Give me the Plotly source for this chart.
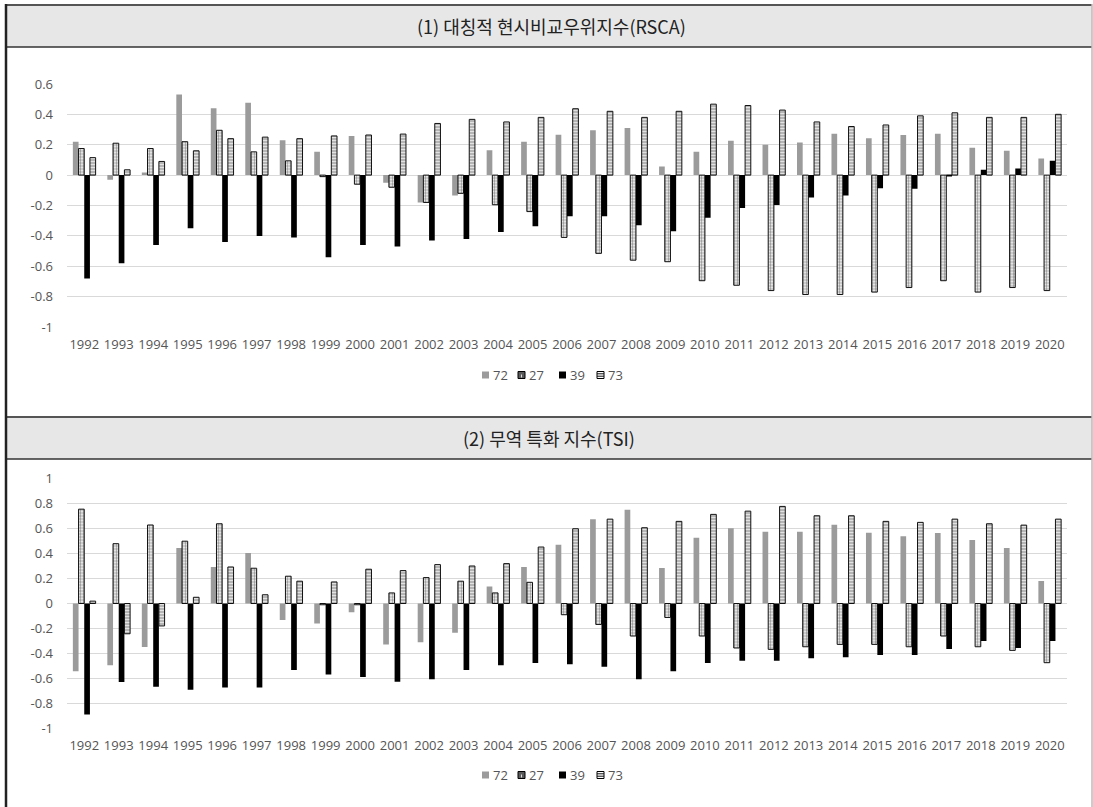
import plotly.graph_objects as go

W, H = 1093, 807

years = ["1992", "1993", "1994", "1995", "1996", "1997", "1998", "1999", "2000", "2001",
         "2002", "2003", "2004", "2005", "2006", "2007", "2008", "2009", "2010", "2011",
         "2012", "2013", "2014", "2015", "2016", "2017", "2018", "2019", "2020"]
series_names = ["72", "27", "39", "73"]

# (1) RSCA
rsca_72 = [0.22, -0.03, 0.017, 0.53, 0.44, 0.476, 0.23, 0.153, 0.258, -0.05, -0.18, -0.135, 0.164, 0.22, 0.266,
           0.295, 0.31, 0.057, 0.153, 0.227, 0.2, 0.214, 0.273, 0.242, 0.264, 0.273, 0.18, 0.16, 0.11]
rsca_27 = [0.175, 0.21, 0.175, 0.22, 0.295, 0.153, 0.094, -0.01, -0.06, -0.08, -0.18, -0.12, -0.195, -0.24, -0.41,
           -0.515, -0.56, -0.57, -0.695, -0.725, -0.76, -0.786, -0.786, -0.77, -0.74, -0.695, -0.77, -0.74, -0.76]
rsca_39 = [-0.68, -0.58, -0.46, -0.35, -0.44, -0.40, -0.41, -0.54, -0.46, -0.47, -0.43, -0.42, -0.375, -0.336, -0.27,
           -0.27, -0.33, -0.37, -0.28, -0.216, -0.196, -0.148, -0.135, -0.087, -0.09, -0.005, 0.035, 0.044, 0.094]
rsca_73 = [0.115, 0.035, 0.09, 0.16, 0.24, 0.25, 0.24, 0.258, 0.264, 0.27, 0.34, 0.367, 0.35, 0.38, 0.437,
           0.42, 0.38, 0.42, 0.467, 0.458, 0.428, 0.35, 0.32, 0.33, 0.39, 0.41, 0.38, 0.38, 0.40]

# (2) TSI
tsi_72 = [-0.544, -0.496, -0.35, 0.445, 0.293, 0.405, -0.133, -0.16, -0.07, -0.328, -0.31, -0.235, 0.136, 0.293, 0.472,
          0.677, 0.752, 0.285, 0.528, 0.603, 0.576, 0.576, 0.632, 0.568, 0.539, 0.565, 0.509, 0.445, 0.181]
tsi_27 = [0.757, 0.48, 0.63, 0.5, 0.64, 0.283, 0.219, -0.01, -0.01, 0.085, 0.208, 0.179, 0.085, 0.17, -0.09,
          -0.168, -0.261, -0.112, -0.261, -0.357, -0.368, -0.347, -0.328, -0.328, -0.347, -0.261, -0.347, -0.376, -0.475]
tsi_39 = [-0.89, -0.63, -0.667, -0.693, -0.675, -0.675, -0.533, -0.57, -0.59, -0.627, -0.608, -0.533, -0.496, -0.477, -0.488,
          -0.507, -0.608, -0.544, -0.477, -0.459, -0.459, -0.44, -0.432, -0.413, -0.413, -0.365, -0.301, -0.357, -0.301]
tsi_73 = [0.019, -0.243, -0.18, 0.05, 0.293, 0.07, 0.179, 0.173, 0.275, 0.264, 0.312, 0.301, 0.32, 0.453, 0.6,
          0.677, 0.608, 0.659, 0.715, 0.741, 0.779, 0.704, 0.704, 0.659, 0.651, 0.677, 0.64, 0.629, 0.677]

rsca_ticks = [0.6, 0.4, 0.2, 0, -0.2, -0.4, -0.6, -0.8, -1]
rsca_ticktext = ["0.6", "0.4", "0.2", "0", "-0.2", "-0.4", "-0.6", "-0.8", "-1"]
tsi_ticks = [1, 0.8, 0.6, 0.4, 0.2, 0, -0.2, -0.4, -0.6, -0.8, -1]
tsi_ticktext = ["1", "0.8", "0.6", "0.4", "0.2", "0", "-0.2", "-0.4", "-0.6", "-0.8", "-1"]

title1 = "(1) 대칭적 현시비교우위지수(RSCA)"
title2 = "(2) 무역 특화 지수(TSI)"


def px(x):
    return x / W


def py(y):
    return 1 - y / H


def styles(name):
    if name == "72":
        return dict(color="#9b9b9b", line=dict(width=0))
    if name == "27":
        return dict(color="white", line=dict(color="#111111", width=1),
                    pattern=dict(shape=".", fgcolor="#222222", bgcolor="white", size=3, solidity=0.5))
    if name == "39":
        return dict(color="#000000", line=dict(width=0))
    return dict(color="white", line=dict(color="#111111", width=1),
                pattern=dict(shape="-", fgcolor="#111111", bgcolor="white", size=3, solidity=0.5))


fig = go.Figure()
top_data = [rsca_72, rsca_27, rsca_39, rsca_73]
bot_data = [tsi_72, tsi_27, tsi_39, tsi_73]
for name, vals in zip(series_names, top_data):
    fig.add_trace(go.Bar(x=years, y=vals, name=name, marker=styles(name),
                         xaxis="x", yaxis="y", showlegend=False))
for name, vals in zip(series_names, bot_data):
    fig.add_trace(go.Bar(x=years, y=vals, name=name, marker=styles(name),
                         xaxis="x2", yaxis="y2", showlegend=False))

tickfont = dict(family="Open Sans, DejaVu Sans, sans-serif", size=13, color="#555555")
axis_common = dict(showgrid=True, gridcolor="#d9d9d9", gridwidth=1, zeroline=True,
                   zerolinecolor="#d9d9d9", zerolinewidth=1, showline=False, ticks="",
                   tickfont=tickfont, automargin=False, fixedrange=True)
xdom = [px(67), px(1067)]

fig.update_layout(
    width=W, height=H,
    margin=dict(l=0, r=0, t=0, b=0),
    paper_bgcolor="white", plot_bgcolor="white",
    barmode="group", bargap=0.34, bargroupgap=0.0,
    xaxis=dict(domain=xdom, anchor="y", type="category", showgrid=False, zeroline=False,
               ticks="", tickfont=tickfont, ticklabelstandoff=7, automargin=False, tickangle=0),
    xaxis2=dict(domain=xdom, anchor="y2", type="category", showgrid=False, zeroline=False,
                ticks="", tickfont=tickfont, ticklabelstandoff=7, automargin=False, tickangle=0),
    yaxis=dict(domain=[py(327.5), py(83.5)], anchor="x", range=[-1.003, 0.603],
               tickmode="array", tickvals=rsca_ticks, ticktext=rsca_ticktext,
               ticklabelstandoff=13, **axis_common),
    yaxis2=dict(domain=[py(728.5), py(478.5)], anchor="x2", range=[-1.003, 1.003],
                tickmode="array", tickvals=tsi_ticks, ticktext=tsi_ticktext,
                ticklabelstandoff=13, **axis_common),
    showlegend=False,
)

shapes = []
# header boxes
for (y0, y1) in [(5, 47), (417, 459)]:
    shapes.append(dict(type="rect", xref="paper", yref="paper", x0=px(6), x1=px(1092), y0=py(y1), y1=py(y0),
                       fillcolor="#e7e7e7", line=dict(width=0), layer="below"))
    shapes.append(dict(type="line", xref="paper", yref="paper", x0=px(6), x1=px(1092), y0=py(y0), y1=py(y0),
                       line=dict(color="#555555", width=2)))
    shapes.append(dict(type="line", xref="paper", yref="paper", x0=px(6), x1=px(1092), y0=py(y1), y1=py(y1),
                       line=dict(color="#333333", width=1.5)))
# outer frame
shapes.append(dict(type="line", xref="paper", yref="paper", x0=px(6), x1=px(6), y0=0, y1=py(4),
                   line=dict(color="#222222", width=2.5)))
shapes.append(dict(type="line", xref="paper", yref="paper", x0=px(1092), x1=px(1092), y0=0, y1=py(4),
                   line=dict(color="#bbbbbb", width=1.5)))

# custom compact legends (Excel style)
leg_font = dict(family="Open Sans, DejaVu Sans, sans-serif", size=13, color="#555555")
swatch_x = [482, 518, 559, 597]
sw = 7
for ly in [375, 775]:
    for name, sx in zip(series_names, swatch_x):
        y0, y1 = ly - sw / 2, ly + sw / 2
        if name == "72":
            shapes.append(dict(type="rect", xref="paper", yref="paper", x0=px(sx), x1=px(sx + sw),
                               y0=py(y1), y1=py(y0), fillcolor="#9b9b9b", line=dict(width=0)))
        elif name == "39":
            shapes.append(dict(type="rect", xref="paper", yref="paper", x0=px(sx), x1=px(sx + sw),
                               y0=py(y1), y1=py(y0), fillcolor="#000000", line=dict(width=0)))
        elif name == "27":
            shapes.append(dict(type="rect", xref="paper", yref="paper", x0=px(sx), x1=px(sx + sw),
                               y0=py(y1), y1=py(y0), fillcolor="#5a5a5a",
                               line=dict(color="#000000", width=1)))
            shapes.append(dict(type="line", xref="paper", yref="paper", x0=px(sx + sw / 2), x1=px(sx + sw / 2),
                               y0=py(y1 - 1), y1=py(y0 + 1), line=dict(color="#dddddd", width=1, dash="dot")))
        else:
            shapes.append(dict(type="rect", xref="paper", yref="paper", x0=px(sx), x1=px(sx + sw),
                               y0=py(y1), y1=py(y0), fillcolor="white",
                               line=dict(color="#000000", width=1)))
            for k in (2.3, 4.7):
                shapes.append(dict(type="line", xref="paper", yref="paper", x0=px(sx), x1=px(sx + sw),
                                   y0=py(y0 + k), y1=py(y0 + k), line=dict(color="#111111", width=1)))
        fig.add_annotation(text=name, xref="paper", yref="paper", x=px(sx + sw + 2), y=py(ly),
                           showarrow=False, xanchor="left", yanchor="middle", font=leg_font)

fig.update_layout(shapes=shapes)

title_font = dict(family="Noto Sans CJK KR, sans-serif", size=18, color="#222222")
fig.add_annotation(text=title1, xref="paper", yref="paper", x=px(551), y=py(26), showarrow=False,
                   xanchor="center", yanchor="middle", font=title_font)
fig.add_annotation(text=title2, xref="paper", yref="paper", x=px(549), y=py(438), showarrow=False,
                   xanchor="center", yanchor="middle", font=title_font)

fig.write_html("out.html", config={"displayModeBar": False})
